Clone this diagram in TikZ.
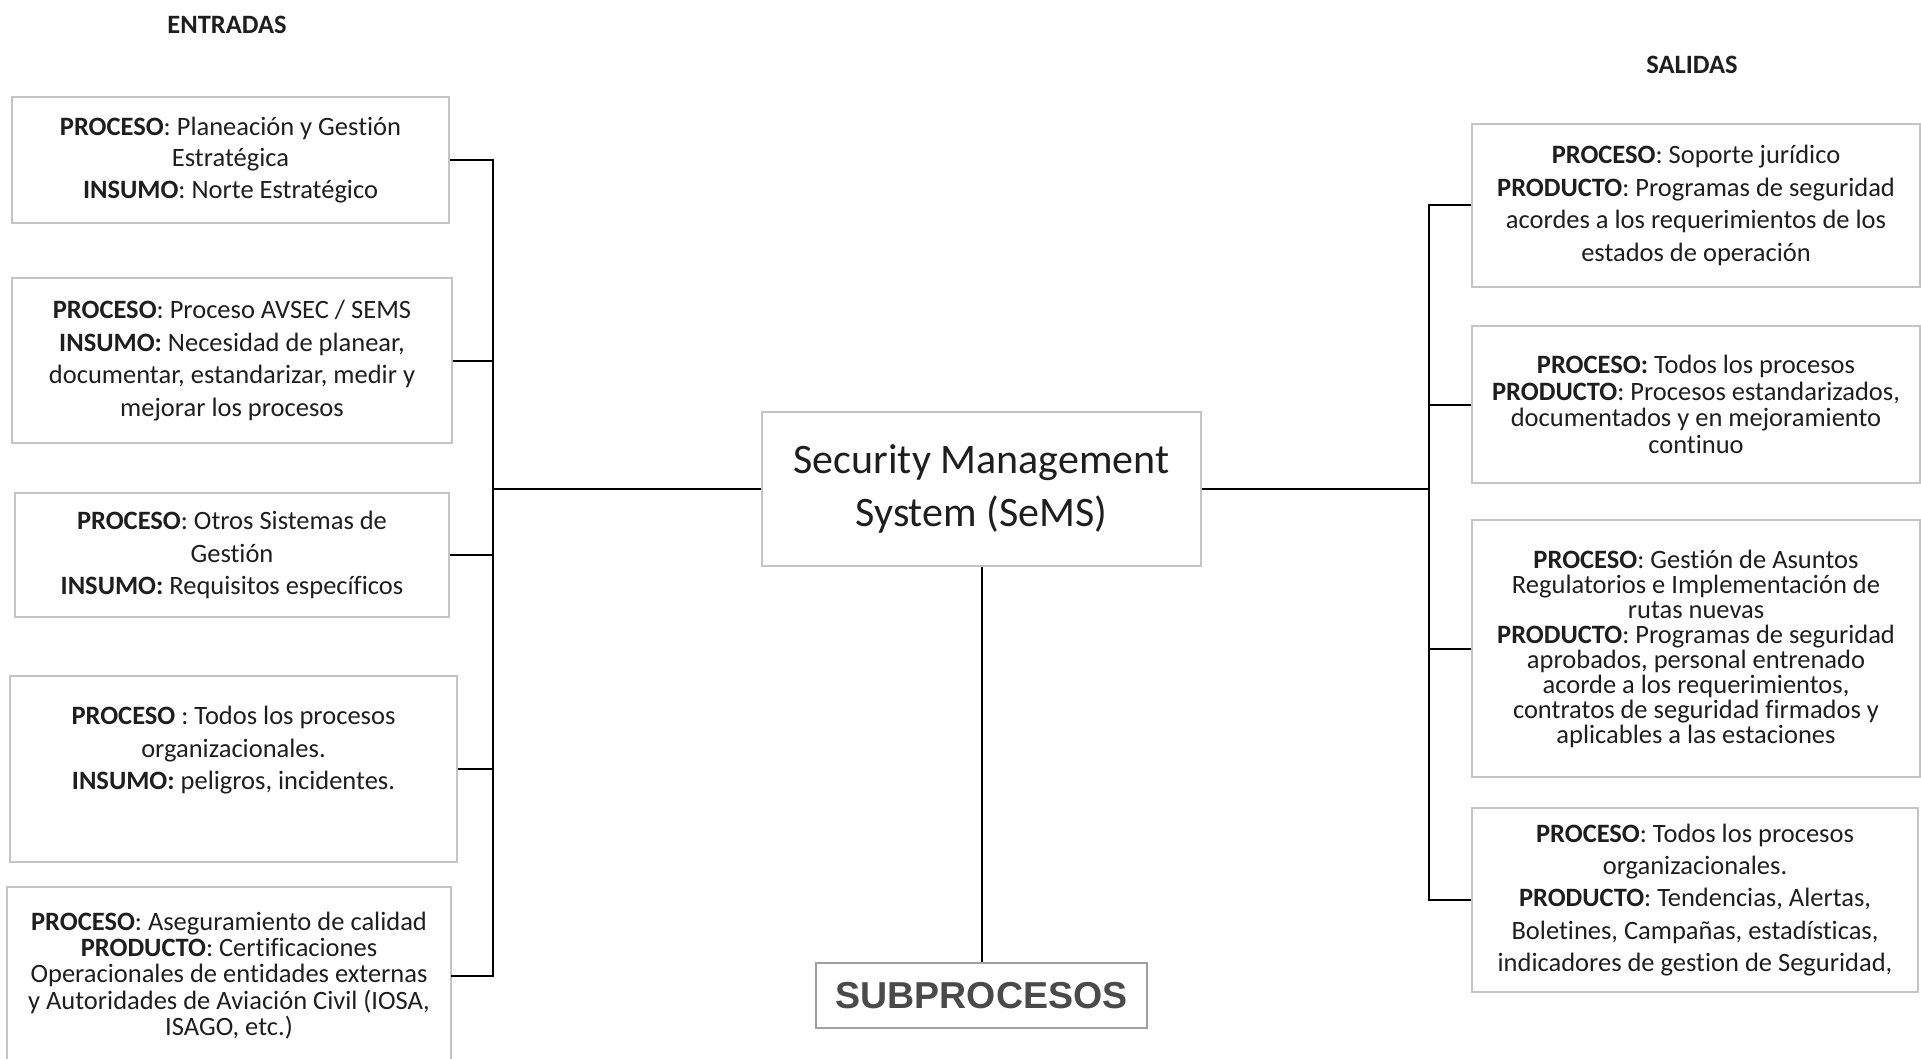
\documentclass[tikz,border=0pt]{standalone}
\usepackage{fontspec}
\setmainfont{Carlito}[Ligatures=CommonOff]
\newfontfamily\arialfont{Liberation Sans}
\definecolor{boxgray}{HTML}{C4C4C4}
\definecolor{txtcol}{HTML}{1E1E1E}
\definecolor{subgray}{HTML}{4A4A4A}
\definecolor{subborder}{HTML}{A0A0A0}
\newcommand{\bxfont}[1]{\fontsize{26.5}{#1}\selectfont}
\begin{document}
\begin{tikzpicture}[x=1pt,y=-1pt,
  box/.style={draw=boxgray, line width=1.8pt, align=center, text=txtcol, inner sep=0pt},
  boxline/.style={draw=boxgray, line width=1.8pt},
  conn/.style={draw=black, line width=2pt},
  head/.style={text=txtcol, font=\bfseries\bxfont{30}}]
\useasboundingbox (0,0) rectangle (1921,1059);
\coordinate (lb) at (493,0);
\coordinate (rb) at (1429,0);
\coordinate (bot) at (0,1075);

\node[head] (entradas) at (227,25) {ENTRADAS};
\node[head] (salidas) at (1692,65) {SALIDAS};

% left boxes
\node[box, minimum width=437pt, minimum height=126pt, font=\bxfont{31.5}] (b1) at (230.5,160)
 {\textbf{PROCESO}: Planeación y Gestión\\ Estratégica\\ \textbf{INSUMO}: Norte Estratégico};
\node[box, minimum width=440pt, minimum height=165pt, font=\bxfont{32.5}] (b2) at (232,360.5)
 {\textbf{PROCESO}: Proceso AVSEC / SEMS\\ \textbf{INSUMO:} Necesidad de planear,\\ documentar, estandarizar, medir y\\ mejorar los procesos};
\node[box, minimum width=434pt, minimum height=124pt, font=\bxfont{32.5}] (b3) at (232,555)
 {\textbf{PROCESO}: Otros Sistemas de\\ Gestión\\ \textbf{INSUMO:} Requisitos específicos};
\node[box, minimum width=447pt, minimum height=186pt, font=\bxfont{32.5}] (b4) at (233.5,769)
 {\textbf{PROCESO} : Todos los procesos\\ organizacionales.\\ \textbf{INSUMO:} peligros, incidentes.\\ \strut};
\node[box, draw=none, minimum width=442pt, minimum height=175pt, font=\bxfont{26.3}] (b5) at (229,975.5)
 {\textbf{PROCESO}: Aseguramiento de calidad\\ \textbf{PRODUCTO}: Certificaciones\\ Operacionales de entidades externas\\ y Autoridades de Aviación Civil (IOSA,\\ ISAGO, etc.)};
\draw[boxline] (b5.north west |- bot) -- (b5.north west) -- (b5.north east) -- (b5.north east |- bot);

% right boxes
\node[box, minimum width=448pt, minimum height=163pt, font=\bxfont{32.7}] (r1) at (1696,205.5)
 {\textbf{PROCESO}: Soporte jurídico\\ \textbf{PRODUCTO}: Programas de seguridad\\ acordes a los requerimientos de los\\ estados de operación};
\node[box, minimum width=448pt, minimum height=157pt, font=\bxfont{26.7}] (r2) at (1696,404.5)
 {\textbf{PROCESO:} Todos los procesos\\ \textbf{PRODUCTO}: Procesos estandarizados,\\ documentados y en mejoramiento\\ continuo};
\node[box, minimum width=448pt, minimum height=257pt, font=\bxfont{25}] (r3) at (1696,648.5)
 {\textbf{PROCESO}: Gestión de Asuntos\\ Regulatorios e Implementación de\\ rutas nuevas\\ \textbf{PRODUCTO}: Programas de seguridad\\ aprobados, personal entrenado\\ acorde a los requerimientos,\\ contratos de seguridad firmados y\\ aplicables a las estaciones};
\node[box, minimum width=446pt, minimum height=184pt, font=\bxfont{32.3}] (r4) at (1695,900)
 {\textbf{PROCESO}: Todos los procesos\\ organizacionales.\\ \textbf{PRODUCTO}: Tendencias, Alertas,\\ Boletines, Campañas, estadísticas,\\ indicadores de gestion de Seguridad,};

% centre
\node[box, minimum width=439pt, minimum height=154pt, font=\fontsize{42}{53}\selectfont] (sems) at (981.5,489)
 {Security Management\\ System (SeMS)};
\node[box, draw=subborder, text=subgray, minimum width=331pt, minimum height=65pt, font=\arialfont\bfseries\fontsize{37.5}{44}\selectfont] (sub) at (981.5,995.5)
 {SUBPROCESOS};

% connectors left
\draw[conn] (b1.east) -- (b1.east -| lb) -- (b5.east -| lb) -- (b5.east);
\draw[conn] (b2.east) -- (b2.east -| lb);
\draw[conn] (b3.east) -- (b3.east -| lb);
\draw[conn] (b4.east) -- (b4.east -| lb);
\draw[conn] (sems.west) -- (sems.west -| lb);
% connectors right
\draw[conn] (r1.west) -- (r1.west -| rb) -- (r4.west -| rb) -- (r4.west);
\draw[conn] (r2.west) -- (r2.west -| rb);
\draw[conn] (r3.west) -- (r3.west -| rb);
\draw[conn] (sems.east) -- (sems.east -| rb);
% down
\draw[conn] (sems.south) -- (sub.north);
\end{tikzpicture}
\end{document}
